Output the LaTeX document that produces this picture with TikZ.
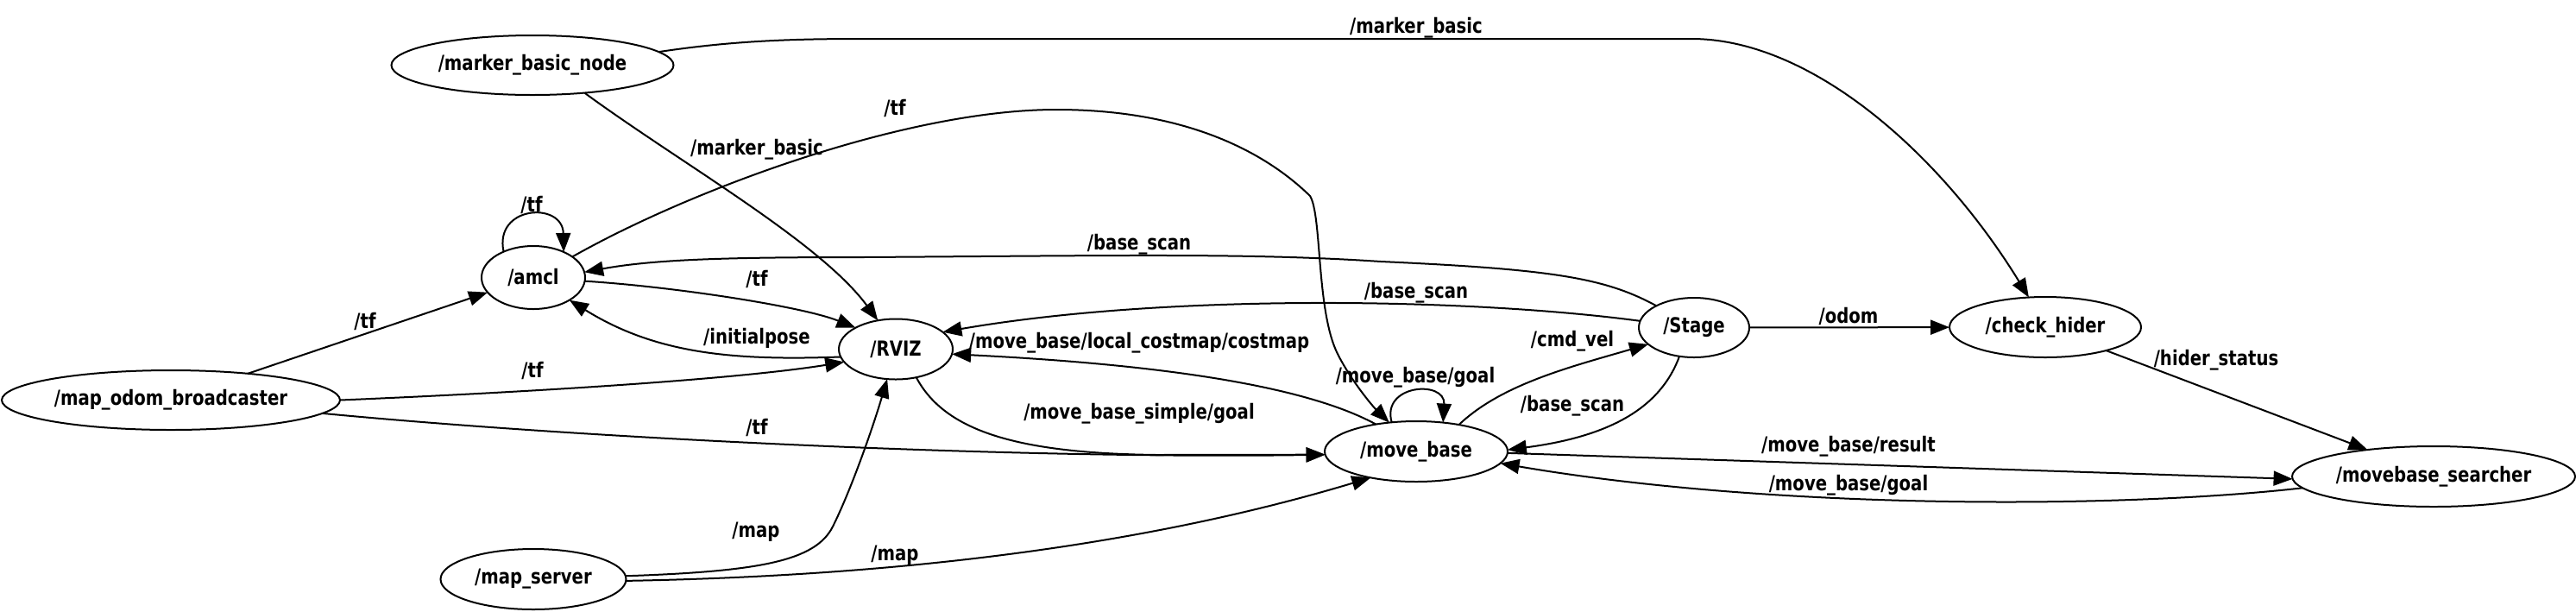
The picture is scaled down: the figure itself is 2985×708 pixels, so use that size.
\documentclass[tikz,border=0pt]{standalone}
\usepackage{fontspec}
\newfontfamily\gvfont{DejaVu Sans}[FakeStretch=0.82]
\usetikzlibrary{arrows.meta,shapes.geometric}
\begin{document}
\begin{tikzpicture}[x=0.5pt,y=-0.5pt,
  gnode/.style={ellipse, draw, line width=1pt, inner sep=0pt, outer sep=0pt,
    minimum height=35pt, font=\gvfont\bfseries\fontsize{12}{14}\selectfont},
  lbl/.style={inner sep=0pt, font=\gvfont\bfseries\fontsize{12}{14}\selectfont},
  edge/.style={line width=1pt, -{Triangle[length=11pt,width=8.5pt]}}]
\useasboundingbox (0,0) rectangle (2985,708);

% nodes
\node[gnode, minimum width=163.5pt, minimum height=34.5pt] (M) at (617,75.5) {/marker\_basic\_node};
\node[gnode, minimum width=60pt, minimum height=36.5pt] (A) at (618,321.5) {/amcl};
\node[gnode, minimum width=66pt] (R) at (1038,404.5) {/RVIZ};
\node[gnode, minimum width=196pt, minimum height=34.5pt] (O) at (198,463.5) {/map\_odom\_broadcaster};
\node[gnode, minimum width=107.5pt] (S) at (618,671) {/map\_server};
\node[gnode, minimum width=106pt] (MB) at (1641,523) {/move\_base};
\node[gnode, minimum width=64pt, minimum height=34.5pt] (ST) at (1963,379.5) {/Stage};
\node[gnode, minimum width=111pt] (CH) at (2370,379) {/check\_hider};
\node[gnode, minimum width=164pt] (MS) at (2820,552) {/movebase\_searcher};

% edges
\draw[edge] (M.6) .. controls (850,47) and (920,45) .. (1000,45) -- (1960,45)
  .. controls (2100,45) and (2250,180) .. (CH.119);
\draw[edge] (M.-28) .. controls (790,190) and (950,280) .. (R.122);
\draw[edge] (A.28) .. controls (800,220) and (1050,127) .. (1224,127)
  .. controls (1380,127) and (1470,180) .. (1518,227)
  .. controls (1532,250) and (1525,360) .. (1550,410)
  .. controls (1565,440) and (1590,470) .. (MB.133);
\draw[edge] (A.139) .. controls (572,238) and (652,233) .. (A.40);
\draw[edge] (ST.150) .. controls (1860,322) and (1800,312) .. (1600,303)
  .. controls (1450,293) and (1300,296) .. (1000,298)
  .. controls (850,298) and (760,300) .. (A.6);
\draw[edge] (ST.173) .. controls (1700,345) and (1350,340) .. (R.20);
\draw[edge] (A.-4) .. controls (780,332) and (930,355) .. (R.152);
\draw[edge] (R.-172) .. controls (850,418) and (760,410) .. (A.-32);
\draw[edge] (O.19) -- (A.-162);
\draw[edge] (O.0) .. controls (600,455) and (850,440) .. (R.-166);
\draw[edge] (O.-5) .. controls (700,510) and (1200,532) .. (MB.-178);
\draw[edge] (S.2) .. controls (880,662) and (945,650) .. (965,610)
  .. controls (985,570) and (1010,500) .. (R.-106);
\draw[edge] (S.-1) .. controls (1000,668) and (1300,640) .. (MB.-150);
\draw[edge] (R.-54) .. controls (1095,500) and (1180,525) .. (1340,527) -- (MB.-178);
\draw[edge] (MB.146) .. controls (1500,440) and (1300,420) .. (R.-5);
\draw[edge] (MB.130) .. controls (1600,445) and (1675,440) .. (MB.47);
\draw[edge] (MB.32) .. controls (1740,445) and (1820,425) .. (ST.-160);
\draw[edge] (ST.-117) .. controls (1925,470) and (1870,505) .. (MB.1);
\draw[edge] (ST) -- (CH);
\draw[edge] (CH.-21) -- (MS.158);
\draw[edge] (MB.-1) -- (MS.-179);
\draw[edge] (MS.-175) .. controls (2450,590) and (2050,590) .. (MB.-8);

% labels
\node[lbl] (l1) at (1641,32) {/marker\_basic};
\node[lbl] (l2) at (877,173) {/marker\_basic};
\node[lbl] (l3) at (1037,125) {/tf};
\node[lbl] (l4) at (616,237) {/tf};
\node[lbl] (l5) at (1320,283) {/base\_scan};
\node[lbl] (l6) at (1641,339) {/base\_scan};
\node[lbl] (l7) at (877,323) {/tf};
\node[lbl] (l8) at (877,392) {/initialpose};
\node[lbl] (l9) at (423,372) {/tf};
\node[lbl] (l10) at (617,429) {/tf};
\node[lbl] (l11) at (877,495) {/tf};
\node[lbl] (l12) at (876,616) {/map};
\node[lbl] (l13) at (1037,643) {/map};
\node[lbl] (l14) at (1320,479) {/move\_base\_simple/goal};
\node[lbl] (l15) at (1320,397) {/move\_base/local\_costmap/costmap};
\node[lbl] (l16) at (1640,437) {/move\_base/goal};
\node[lbl] (l17) at (1822,395) {/cmd\_vel};
\node[lbl] (l18) at (1822,470) {/base\_scan};
\node[lbl] (l19) at (2142,366) {/odom};
\node[lbl] (l20) at (2568,417) {/hider\_status};
\node[lbl] (l21) at (2142,517) {/move\_base/result};
\node[lbl] (l22) at (2142,562) {/move\_base/goal};
\end{tikzpicture}
\end{document}
